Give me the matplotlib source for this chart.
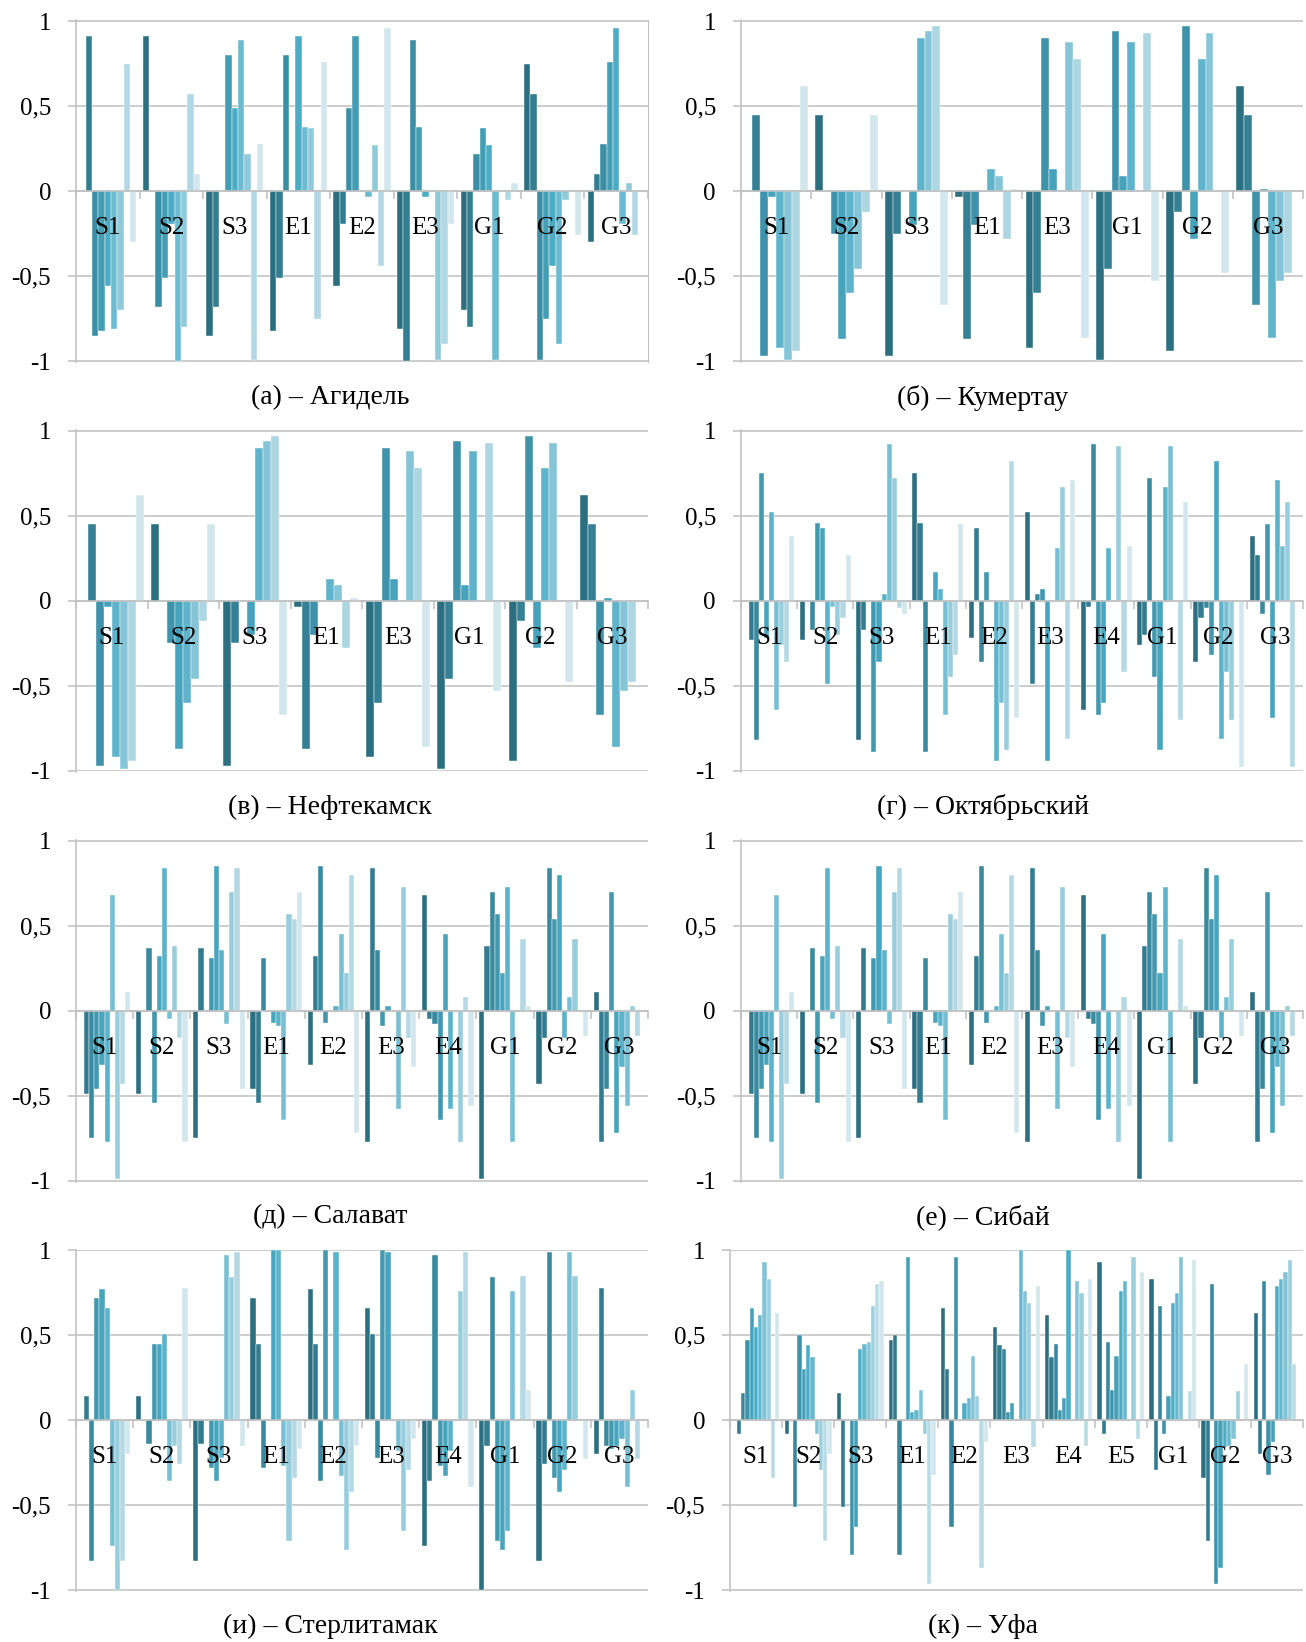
import matplotlib
matplotlib.use("Agg")
import matplotlib.pyplot as plt
import numpy as np
from matplotlib.colors import LinearSegmentedColormap

plt.rcParams['font.family'] = ['Liberation Serif', 'DejaVu Serif']

# Correlation matrices, upper triangle only (row i: correlation with the following variables)
names9 = ["S1", "S2", "S3", "E1", "E2", "E3", "G1", "G2", "G3"]
agidel = [
    [0.91, -0.85, -0.82, -0.56, -0.81, -0.70, 0.75, -0.30],
    [-0.68, -0.51, -0.19, -1.00, -0.80, 0.57, 0.10],
    [0.80, 0.49, 0.89, 0.22, -0.99, 0.28],
    [0.91, 0.38, 0.37, -0.75, 0.76],
    [-0.035, 0.27, -0.44, 0.96],
    [-0.99, -0.90, -0.19],
    [-0.05, 0.05],
    [-0.26],
]

names8 = ["S1", "S2", "S3", "E1", "E3", "G1", "G2", "G3"]
kumertau = [
    [0.45, -0.97, -0.035, -0.92, -0.99, -0.94, 0.62],
    [-0.25, -0.87, -0.60, -0.46, -0.12, 0.45],
    [-0.20, 0.90, 0.94, 0.97, -0.67],
    [0.13, 0.09, -0.28, 0.016],
    [0.88, 0.78, -0.86],
    [0.93, -0.53],
    [-0.48],
]
# in the source figure Нефтекамск repeats Кумертау
neftekamsk = [row[:] for row in kumertau]

names10 = ["S1", "S2", "S3", "E1", "E2", "E3", "E4", "G1", "G2", "G3"]
oktyabrsky = [
    [-0.23, -0.82, 0.75, -0.22, 0.52, -0.64, -0.26, -0.36, 0.38],
    [-0.17, 0.46, 0.43, -0.49, -0.035, -0.20, -0.10, 0.27],
    [-0.89, -0.36, 0.04, 0.92, 0.72, -0.04, -0.08],
    [0.17, 0.07, -0.67, -0.45, -0.32, 0.45],
    [-0.94, -0.60, -0.88, 0.82, -0.69],
    [0.31, 0.67, -0.81, 0.71],
    [0.91, -0.42, 0.32],
    [-0.70, 0.58],
    [-0.98],
]
salavat = [
    [-0.49, -0.75, -0.46, -0.32, -0.77, 0.68, -0.99, -0.43, 0.11],
    [0.37, -0.54, 0.32, 0.84, -0.05, 0.38, -0.16, -0.77],
    [0.31, 0.85, 0.36, -0.08, 0.70, 0.84, -0.46],
    [-0.07, -0.09, -0.64, 0.57, 0.54, 0.70],
    [0.03, 0.45, 0.22, 0.80, -0.72],
    [-0.58, 0.73, -0.16, -0.33],
    [-0.77, 0.08, -0.56],
    [0.42, 0.03],
    [-0.15],
]
# Сибай repeats Салават in the source figure
sibay = [row[:] for row in salavat]
sterlitamak = [
    [0.14, -0.83, 0.72, 0.77, 0.66, -0.74, -1.00, -0.83, -0.20],
    [-0.14, 0.45, 0.45, 0.51, -0.36, -0.15, -0.26, 0.78],
    [-0.28, -0.36, -0.22, 0.97, 0.84, 0.99, -0.15],
    [1.00, 1.00, -0.27, -0.71, -0.34, -0.17],
    [0.99, -0.33, -0.76, -0.42, -0.15],
    [-0.18, -0.65, -0.29, -0.11],
    [0.76, 0.99, -0.39],
    [0.85, 0.18],
    [-0.23],
]

names11 = ["S1", "S2", "S3", "E1", "E2", "E3", "E4", "E5", "G1", "G2", "G3"]
ufa = [
    [-0.08, 0.16, 0.47, 0.66, 0.55, 0.62, 0.93, 0.83, -0.34, 0.63],
    [-0.51, 0.50, 0.30, 0.44, 0.37, -0.08, -0.29, -0.71, -0.20],
    [-0.79, -0.63, 0.42, 0.45, 0.46, 0.67, 0.80, 0.82],
    [0.96, 0.05, 0.06, 0.18, -0.08, -0.96, -0.32],
    [0.10, 0.13, 0.38, 0.14, -0.87, -0.13],
    [1.00, 0.76, 0.69, -0.16, 0.79],
    [0.82, 0.75, -0.15, 0.83],
    [0.96, -0.11, 0.87],
    [0.17, 0.94],
    [0.33],
]

titles = ["(а) – Агидель", "(б) – Кумертау", "(в) – Нефтекамск", "(г) – Октябрьский",
          "(д) – Салават", "(е) – Сибай", "(и) – Стерлитамак", "(к) – Уфа"]
yticks = [-1, -0.5, 0, 0.5, 1]
ytick_labels = ["-1", "-0,5", "0", "0,5", "1"]

W, H = 1306, 1642
grid_col = "#BFBFBF"
cmap = LinearSegmentedColormap.from_list("teal", ["#2C6F81", "#4BACC6", "#D2E6ED"])


def full_matrix(upper):
    n = len(upper) + 1
    m = np.zeros((n, n))
    for i, row in enumerate(upper):
        for k, v in enumerate(row):
            m[i, i + 1 + k] = v
            m[i + 1 + k, i] = v
    return m


def draw(ax, names, upper, right_frame=False):
    mat = full_matrix(upper)
    n = len(names)
    cols = cmap(np.linspace(0, 1, n))
    x = np.arange(n)
    w = 0.9 / n
    for j in range(n):
        ax.bar(x - 0.45 + w * (j + 0.5), mat[:, j], width=w, color=cols[j],
               edgecolor="white", linewidth=0.3, zorder=2)
    ax.set_xlim(-0.5, n - 0.5)
    ax.set_ylim(-1.004, 1.004)
    ax.set_axisbelow(True)
    ax.set_yticks(yticks)
    ax.set_yticklabels(ytick_labels, fontsize=18)
    ax.yaxis.grid(True, color=grid_col, lw=1.1)
    ax.tick_params(axis="y", length=6, color=grid_col, width=1.1, pad=12)
    ax.set_xticks(np.arange(n + 1) - 0.5)
    ax.set_xticklabels([])
    ax.tick_params(axis="x", length=6, color=grid_col, width=1.1, direction="out")
    ax.spines["bottom"].set_position(("data", 0))
    ax.spines["bottom"].set_color(grid_col)
    ax.spines["bottom"].set_linewidth(1.1)
    ax.spines["left"].set_color(grid_col)
    ax.spines["left"].set_linewidth(1.1)
    ax.spines["top"].set_visible(False)
    ax.spines["right"].set_visible(right_frame)
    ax.spines["right"].set_color(grid_col)
    for i, name in enumerate(names):
        ax.annotate(name, (i, 0), xytext=(0, -26.5), textcoords="offset points",
                    ha="center", va="center", fontsize=18, zorder=5)


fig = plt.figure(figsize=(W / 100, H / 100), dpi=100)

panels = [(names9, agidel), (names8, kumertau), (names8, neftekamsk), (names10, oktyabrsky),
          (names10, salavat), (names10, sibay), (names10, sterlitamak), (names11, ufa)]
tops = [20.5, 430, 840, 1249.5]
height = 341.5
title_y = [398, 807, 1217, 1626]

for k, (names, upper) in enumerate(panels):
    row, col = divmod(k, 2)
    if col == 0:
        x0, x1 = 76, 648
    else:
        x0, x1 = (730 if k == 7 else 741), 1303
    top = tops[row]
    ax = fig.add_axes([x0 / W, 1 - (top + height) / H, (x1 - x0) / W, height / H])
    draw(ax, names, upper, right_frame=(k == 0))
    tx = 330 if col == 0 else 983
    fig.text(tx / W, 1 - title_y[row] / H, titles[k], ha="center", va="center", fontsize=20)

fig.savefig("out.png", dpi=100)
